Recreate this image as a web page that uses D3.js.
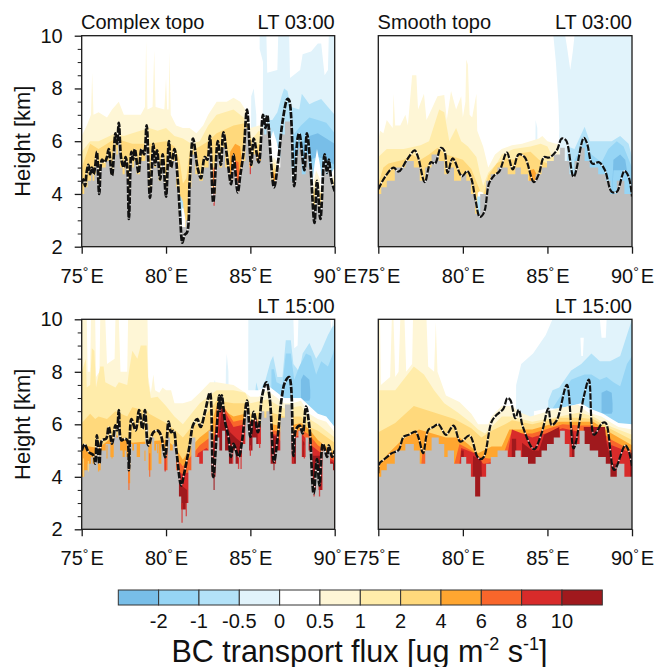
<!DOCTYPE html>
<html><head><meta charset="utf-8">
<script src="https://cdn.jsdelivr.net/npm/d3@7"></script>
<style>html,body{margin:0;padding:0;background:#fff}svg{display:block}text{font-family:"Liberation Sans",Arial,sans-serif;fill:#111}</style>
</head><body><svg id="c" width="659" height="667"></svg>
<script>
const levelLabels=["-2","-1","-0.5","0","0.5","1","2","4","6","8","10"];
const levelColors=["#78bee8","#96d5f5","#b3e2f8","#e1f3fb","#ffffff","#fef6d6","#ffecaa","#ffd97c","#ffa630","#f9662b","#d82b2a","#a0191d"];
const lonTicks=[75,80,85,90], heightTicks=[2,4,6,8,10], heightMinor=[2.5,3,3.5,4.5,5,5.5,6.5,7,7.5,8.5,9,9.5];

/* black lines [lon,height] */
const lineTL=[[75,4.4],[75.1,4.55],[75.2,4.3],[75.3,4.85],[75.4,5.1],[75.5,4.75],[75.6,5],[75.7,4.75],[75.8,5.05],[75.9,5.6],[76.04,4],[76.2,5.3],[76.35,5.2],[76.5,5.4],[76.6,5.7],[76.8,4.7],[77,6.3],[77.1,5.9],[77.2,6.7],[77.35,5.3],[77.5,5],[77.6,5.4],[77.7,5.05],[77.8,3.05],[77.95,5.6],[78.05,5.3],[78.15,5.7],[78.37,4.8],[78.55,5.7],[78.7,5.5],[78.85,6.6],[79.05,3.85],[79.25,5.9],[79.35,5.1],[79.47,5.65],[79.65,4.55],[79.8,5.5],[80,3.9],[80.17,6],[80.3,5],[80.5,5.7],[80.7,4.5],[80.83,3.2],[80.97,2.15],[81.1,2.45],[81.25,2.55],[81.4,4.5],[81.6,6.1],[81.87,5],[82.07,4.6],[82.3,5.4],[82.45,5.3],[82.6,6.2],[82.8,3.68],[83.07,6],[83.25,5.1],[83.4,6.34],[83.6,5.5],[83.86,4.37],[84,5.5],[84.25,4.06],[84.4,4.7],[84.6,5.6],[84.8,7.2],[85.05,5.1],[85.2,6.1],[85.5,5.2],[85.75,7],[85.9,6.5],[86,7],[86.4,4.25],[86.65,5.25],[86.9,6.7],[87.2,7.6],[87.3,7.55],[87.6,4.3],[87.8,6.1],[87.9,6.3],[88.2,4.9],[88.35,6.3],[88.55,5.2],[88.8,2.9],[88.95,4.5],[89.15,3.05],[89.4,5.5],[89.55,4.8],[89.65,5.3],[89.8,4.55],[90,4.1]];
const lineTR=[[75,4.18],[75.4,4.65],[75.9,5],[76.2,4.85],[76.7,5.3],[77.15,5.65],[77.35,5.4],[77.75,4.45],[78.1,5.2],[78.35,5.15],[78.7,5.75],[78.9,5.65],[79.1,4.8],[79.4,5.35],[79.95,4.67],[80.25,4.87],[80.5,4.58],[80.75,3.76],[81,3.13],[81.25,3.3],[81.55,4.4],[81.85,4.7],[82.15,4.85],[82.6,5.57],[82.95,4.93],[83.3,5.5],[83.65,5.4],[84.2,4.45],[84.5,4.77],[84.8,5.4],[85.1,5.38],[85.55,5.65],[85.85,6.1],[86.1,6.03],[86.55,4.65],[87.15,6.13],[87.35,5.9],[87.65,5.15],[88.05,5.2],[88.4,4.9],[88.8,4.08],[89.1,4.08],[89.55,4.87],[89.8,4.65],[90,3.9]];
const lineBL=[[75,5],[75.17,5.24],[75.4,4.95],[75.7,4.82],[75.8,4.5],[75.9,5.58],[76.05,4.5],[76.2,5.39],[76.45,5.45],[76.6,5.9],[76.8,5.26],[77,5.96],[77.1,5.77],[77.2,6.54],[77.35,5.39],[77.55,5.45],[77.7,5.39],[77.8,4.25],[77.95,6.2],[78.2,5.77],[78.4,6.54],[78.6,5.83],[78.75,6.54],[78.95,5.2],[79.25,5.7],[79.5,5.76],[79.7,5.58],[79.95,4.75],[80.15,6.1],[80.3,5.7],[80.45,5.75],[80.6,5.08],[80.9,3.67],[81.05,4.05],[81.4,5.2],[81.6,5.96],[81.85,6.2],[82.05,5.9],[82.32,6.5],[82.6,7.2],[82.8,3.99],[83.15,7.1],[83.2,6.5],[83.3,7.1],[83.5,6.09],[83.7,5.52],[83.85,4.76],[84,5.26],[84.3,4.76],[84.5,5.33],[84.8,6.9],[85,5.52],[85.2,6.47],[85.45,5.7],[85.7,7.1],[85.95,7.6],[86.15,6.97],[86.4,4.57],[86.6,5.4],[86.85,6.97],[87.05,7.6],[87.3,7.8],[87.55,4.8],[87.7,5.8],[87.93,5.95],[88.1,5.65],[88.3,6.67],[88.5,5.9],[88.75,3.36],[88.95,4.67],[89.1,3.67],[89.3,5.26],[89.55,4.76],[89.65,5.2],[89.85,4.76],[90,5]];
const lineBR=[[75,4.13],[75.06,4.5],[75.3,4.64],[75.8,4.9],[76.2,5.02],[76.5,5.53],[76.8,5.6],[77.2,5.72],[77.4,5.45],[77.65,4.9],[77.95,5.78],[78.25,5.9],[78.55,6],[79,5.6],[79.45,5.95],[79.85,5.34],[80.4,5.57],[80.85,4.77],[81.05,4.67],[81.25,4.77],[81.7,6.1],[82,6.36],[82.4,6.6],[82.63,7],[82.8,6.93],[83.1,6.23],[83.3,6.55],[83.55,5.9],[84.2,5.05],[84.65,5.65],[85.05,6.6],[85.25,5.97],[85.55,6.15],[86.15,7.5],[86.55,5.08],[87.15,7.05],[87.45,7.7],[87.75,5.6],[88.25,6.05],[88.45,6.05],[88.95,4.26],[89.6,5.2],[89.8,5],[90,4.4]];

/* terrain [lon,height] */
const terrainComplex=[[75,4],[75.1,4],[75.2,4.25],[75.3,4.25],[75.4,4.5],[75.5,4.5],[75.6,4.75],[75.7,4.5],[75.8,4.75],[75.9,5.25],[76.04,4.25],[76.2,5],[76.35,5],[76.5,5.25],[76.6,5.25],[76.8,4.75],[77,5.75],[77.1,5.5],[77.2,6],[77.35,5],[77.5,4.75],[77.6,5],[77.7,4.75],[77.8,3.75],[77.95,5.25],[78.05,5],[78.15,5.25],[78.37,4.75],[78.55,5.25],[78.7,5.25],[78.85,6],[79.05,4.25],[79.25,5.5],[79.35,5],[79.47,5.25],[79.65,4.5],[79.8,5.25],[80,4.25],[80.17,5.5],[80.3,5],[80.5,5.25],[80.7,4.25],[80.83,3.25],[80.97,2.75],[81.1,2.75],[81.25,3],[81.4,4.25],[81.6,5.5],[81.87,4.75],[82.07,4.5],[82.3,5],[82.45,5],[82.6,5.75],[82.8,4],[83.07,5.5],[83.25,5],[83.4,5.75],[83.6,5],[83.86,4.5],[84,5],[84.25,4.5],[84.4,4.75],[84.6,5.25],[84.8,6.5],[85.05,5],[85.2,5.5],[85.5,5.25],[85.75,6.5],[85.9,6.25],[86,6.5],[86.4,4.5],[86.65,5],[86.9,6.25],[87.2,6.75],[87.3,6.75],[87.6,4.5],[87.8,5.5],[87.9,5.75],[88.2,4.75],[88.35,5.5],[88.55,5],[88.8,3.5],[88.95,4.25],[89.15,3.5],[89.4,5],[89.55,4.75],[89.65,5],[89.8,4.5],[90,4.25]];
const terrainSmooth=[[75,4],[75.35,4.25],[75.65,4.5],[76.3,5],[76.9,5.25],[77.3,5],[77.6,4.5],[77.95,5],[78.35,5.5],[78.8,5.25],[79,4.75],[79.2,5],[79.75,4.5],[80.05,4.75],[80.35,4.5],[80.6,4],[80.85,3.25],[81.2,4],[81.55,4.5],[81.75,4.75],[82.35,5],[82.95,4.75],[83.25,5],[83.6,4.75],[84.1,4.5],[84.5,4.75],[84.8,5],[85.15,5.25],[85.6,5.5],[85.9,5.75],[86.15,5.25],[86.45,4.75],[86.75,5.25],[87.05,5.75],[87.35,5.25],[87.65,5],[88.35,4.75],[88.55,4.5],[88.9,4],[89.3,4.5],[89.8,4],[90,4]];

/* filled contours [lon, upper, lower(optional, default bottom)] */
const tlBlue3=[[85,2],[85.05,7.7],[85.2,8],[85.35,7],[85.4,2],[85.7,2],[85.75,9],[85.55,9.5],[85.55,10],[90,10]];
const tlHoles=[[85.95,10,10],[86,10,8.6],[86.6,10,8.7],[86.65,10,10],[87.3,10,10],[87.35,10,8.4],[87.95,10,8.7],[88.1,10,9.3],[88.6,10,9.4],[89,10,9.7],[89.2,10,9.7],[89.4,10,8.5],[89.6,10,8.7],[89.65,10,10]];
const tlBlue2=[[85.75,2],[85.8,6.8],[86.3,6.8],[86.6,7.1],[86.85,7.7],[87,8],[87.2,7.9],[87.4,7.3],[87.9,7.2],[88.05,7.8],[88.5,7.4],[88.8,7.5],[89.2,7.6],[89.6,7.3],[90,7]];
const tlBlue1=[[85.85,2],[85.95,6.4],[86.1,6.3],[86.3,5.8],[86.8,5.9],[87.5,6.2],[88,6.6],[88.5,6.9],[89,6.8],[89.5,6.7],[90,6.3]];
const tlBlue0=[[87.4,5.7,5.2],[87.5,5.7,5.2],[88,5.9,5.2],[88.5,6.2,5.3],[89,6.3,5.4],[89.5,6.1,5.3],[90,5.9,5.1]];
const tlWhite=[[85.95,5.2,5],[86.15,6,4.9],[86.35,6.4,4.8],[86.55,6,4.9],[86.75,5.4,4.9],[88.65,4.3,4],[88.8,5.1,4],[88.95,5.7,4],[89.1,5.2,4],[89.25,4.6,4],[89.7,4.7,4],[90,5,4]];
const tlPos05=[[75,6.2],[75.3,6.6],[75.55,7],[75.62,8.6],[75.7,7],[76,7.1],[76.5,6.9],[76.8,7.2],[77.2,7.5],[77.5,7],[78,7],[78.5,7],[78.75,7.3],[78.82,9.8],[78.9,7.2],[79.2,7.3],[79.3,9.45],[79.38,7.3],[79.9,7.2],[80,8.4],[80.07,7.2],[80.15,7.2],[80.2,9.4],[80.28,7],[80.6,6.6],[81,6.5],[81.4,6.5],[81.8,6.3],[82.2,6.6],[82.5,7],[83,7.5],[83.6,7.5],[84,7.65],[84.4,7.5],[84.8,7.1],[85,6.5],[85.5,6.6],[85.75,6.6],[85.8,4],[86.1,4],[86.2,5],[86.35,5.4],[86.5,5.3],[86.7,5],[86.8,4],[88.6,4],[88.7,4.3],[88.9,4.9],[89.1,4.6],[89.2,4],[89.8,4.5],[90,4.8]];
const tlPos1=[[75,5.6],[75.5,6],[76,6],[77,6.3],[77.5,6.2],[78,6.3],[79,6.5],[79.5,6.4],[80,6.5],[80.5,6.2],[81,6.1],[81.5,5.9],[82,6],[82.5,6.6],[83,7],[84,7.2],[84.6,6.9],[85,6],[85.5,6.4],[85.7,6.3],[85.75,4],[86.15,4],[86.25,5],[86.4,5.2],[86.6,5],[86.7,4],[88.7,4],[88.9,4.6],[89.1,4],[90,4.6]];
const tlPos2=[[75,5],[75.5,5.9],[76,5.7],[77,6.1],[78,5.9],[79,5.9],[80,6],[80.5,5.8],[80.8,5.3],[81,4.4],[81.2,4.6],[81.4,5.6],[82,5.8],[82.5,6],[83,6.3],[84,6.6],[84.8,6.7],[85.2,5.7],[85.5,5.9],[85.7,5.8],[85.75,4],[86.2,4],[86.3,4.9],[86.45,5],[86.6,4.5],[88.7,4],[88.9,4.3],[89.1,4],[90,4.4]];
const tlPos4=[[82.7,4],[82.8,4.8],[82.95,5],[83.05,4],[83.7,4],[83.8,5.6],[84.1,5.9],[84.4,5.8],[84.6,4.5],[85.2,4.5],[85.4,5.5],[85.6,5.6],[85.65,4],[86.25,4],[86.35,4.85],[86.5,4.7],[86.55,4]];
const tlPos6=[[83.95,4],[84,5.3],[84.3,5.2],[84.4,4],[85.45,4],[85.5,5.4],[85.58,5.2],[85.6,4]];
const tlValley=[[80.8,3.9,3],[80.88,3.9,2.9],[81,3.7,2.6],[81.05,3.4,2.6],[81.1,3.2,2.6]];
const tlValleyWhite=[[80.93,3.4,2.7],[81,3.5,2.6],[81.05,3.4,2.6],[81.15,3,2.6]];
const tlStems=[[82.85,3.55,5,10],[85,4.75,5.4,10],[84.3,4.1,4.6,9]];

const trBlue3=[[84.25,2],[84.3,6.8],[84.4,6.5],[84.45,2],[85.5,2],[85.7,6.5],[85.65,7.5],[85.5,9],[85.35,10],[90,10]];
const trHoles=[[86.05,10,10],[86.15,10,9.6],[86.35,10,8.7],[86.5,10,9.4],[86.6,10,10]];
const trBlue2=[[85.9,2],[86.2,5.8],[86.6,5.7],[87.2,6.55],[87.5,6],[88.2,6],[88.8,6],[89.3,6.2],[89.8,5.9],[90,5.4]];
const trBlue1=[[86.4,2],[86.6,5.3],[87.2,6],[87.6,5.5],[88.2,5.2],[88.6,5.7],[89.1,6],[89.5,5.8],[90,5]];
const trBlue0=[[88.7,2],[88.9,5.3,4.9],[89.3,5.5,4.9],[89.6,5.3,4.9],[89.7,4.9,4.7]];
const trPos05=[[75,6],[75.1,6.4],[75.3,6.3],[75.5,6.8],[75.85,6.5],[75.9,7.8],[76,6.6],[76.3,6.6],[76.6,7],[76.75,6.6],[77,8.5],[77.25,8.5],[77.35,7.2],[77.7,7.8],[77.85,6.8],[78,7],[78.5,7.7],[78.9,7.75],[79.05,6.8],[79.3,7.9],[79.6,7.2],[79.9,7.7],[80,6.9],[80.15,7.5],[80.2,9.1],[80.3,8.9],[80.4,7],[80.55,6.9],[80.8,7.8],[80.85,6.4],[81.2,5.8],[81.5,5],[81.9,5.5],[82.3,5.7],[82.9,5.85],[83.5,5.9],[84.5,6.1],[84.7,6.2],[85,6],[85.5,5.9],[85.7,5.9],[85.8,4],[90,4]];
const trPos1=[[75,5.4],[75.5,5.7],[76.5,5.7],[77.5,5.85],[78,6],[78.6,7.2],[78.9,7.1],[79.2,6],[79.6,6.5],[79.9,6],[80.3,5.8],[80.8,5.4],[81,4.8],[81.2,4.3],[81.5,4.8],[82,5.15],[82.3,5.5],[83,5.7],[84,5.8],[84.6,5.9],[85,5.8],[85.3,5.4],[85.5,5.4],[85.55,4],[90,4]];
const trPos2=[[75,4.4],[75.3,5],[75.6,5.15],[76.5,5.3],[77,5.5],[77.5,5.3],[78,5.5],[78.5,5.75],[79,5.5],[79.5,5.4],[80,5.3],[80.5,4.95],[81,4.15],[81.2,3.9],[81.5,4.7],[82,5.15],[82.5,5.35],[83,5.3],[83.5,5.55],[84,5.6],[84.5,5.3],[85,5.15],[85.05,4],[90,4]];
const trPos4=[[83.9,4],[83.95,4.9],[84.2,4.95],[84.4,4.7],[84.45,4]];
const trValley=[[80.85,3.9,3],[81,3.9,3.2],[81.2,3.7,3.1]];
const trValleyWhite=[[80.88,4.05,3.8],[81,4.1,3.75],[81.2,4.05,3.7]];

const blBlue3=[[82.7,2],[82.7,7.3],[82.9,7.7],[83,7.3],[83.05,2],[83.45,2],[83.55,8.1],[83.6,8.7],[83.7,8],[83.75,2],[84.85,2],[84.88,10],[90,10]];
const blHoles=[[87.55,10,10],[87.6,10,8.9],[87.8,10,9],[87.85,10,10],[89.75,10,10],[89.8,10,9.6],[89.9,10,10]];
const blBlue2=[[85.2,2],[85.25,7],[85.35,7.6],[85.5,7.2],[85.9,7.7],[86.2,8.4],[86.35,8.6],[86.6,7.8],[86.9,7.8],[87.1,9.2],[87.4,9.2],[87.55,8.3],[87.9,8],[88.1,8.7],[88.5,9.1],[88.9,8.5],[89.2,8.8],[89.6,9.4],[89.85,9.7],[90,9.8]];
const blBlue1=[[86.2,2],[86.25,8.1],[86.4,8.1],[86.55,7.6],[86.9,7.5],[87.1,8.7],[87.4,8.7],[87.6,7.7],[87.9,8.2],[88.3,8.7],[88.6,8.6],[88.9,7.9],[89.2,8.4],[89.6,8.2],[89.9,8.7],[90,9]];
const blBlue0=[[88,7.7,7],[88.15,7.9,6.9],[88.5,7.7,6.9],[88.55,7.3,7]];
const blWhite=[[79.5,7.2],[80,7.4],[80.5,7],[81,7],[81.5,7.1],[82,7.4],[82.5,7.8],[83,7.5],[84,7.5],[84.7,7.3],[85,7.3],[85.5,7.3],[86,7.5],[87,7],[87.5,7],[88,7],[88.5,6.7],[89,6.4],[89.5,6.3],[90,5.9]];
const blPos05=[[75,10],[75.3,10],[75.35,8],[75.5,8],[75.55,10],[75.8,10],[75.85,7.8],[76.05,8],[76.1,10],[76.4,10],[76.5,8.3],[76.95,8.5],[77,10],[77.2,10],[77.3,8],[77.7,8],[77.75,10],[78.9,10],[78.95,7.8],[79.1,7.2],[79.25,7.9],[79.35,7.3],[79.6,7.2],[79.8,7.4],[80,7.3],[80.3,7.3],[80.5,6.8],[81,6.8],[81.5,6.9],[82,7.2],[82.6,7.6],[83,7.6],[84,7.5],[84.7,7.2],[85,7.05],[85.5,7.05],[86,7.3],[87,6.8],[87.5,6.8],[88,6.9],[88.5,6.4],[89,6.2],[89.5,6.1],[90,5.7]];
const blPos1=[[75,8],[75.25,8.5],[75.3,7.4],[75.5,7.5],[75.6,8.9],[75.75,8.8],[75.85,7.4],[76.1,8.2],[76.3,8.2],[76.4,7.6],[77,7.4],[77.2,7.6],[77.7,7.5],[77.8,8],[78,8.8],[78.3,8.5],[78.5,9],[78.85,9],[78.95,7.6],[79.1,7],[79.5,7.05],[80,6.7],[80.5,6.3],[81,6],[81.5,6.4],[82,6.8],[82.5,7.05],[83,7.3],[84,7.3],[84.7,7.2],[85,6.8],[86,6.95],[87,6.6],[88,6.7],[88.5,6.2],[89,6],[90,5.5]];
const blPos2=[[75,6.05],[75.5,6.4],[75.8,6.2],[76,6.3],[76.5,6.2],[77,6.5],[77.7,6.3],[78,6.65],[78.9,6.5],[79,6.4],[80,6.05],[80.5,5.8],[81,5.5],[81.5,5.9],[82,6.05],[83,6.9],[84,6.8],[84.7,6.8],[85,6.4],[86,6.5],[87,6.3],[88,6.3],[88.5,5.9],[89,5.75],[90,5.3]];
const blPos4=[[75,5.2],[76,5.1],[77,5.6],[78,5.3],[79,5.35],[80,5.4],[80.5,5.15],[81,4.65],[81.5,5.15],[82,5.5],[82.6,5.8],[83,6.7],[84,6.3],[84.7,6.4],[85,6.05],[86,6.05],[87,5.9],[88,6.05],[88.5,5.8],[89,5.4],[90,4.9]];
const blPos6=[[79.8,4.5],[80,5.1],[80.5,4.8],[81,4.4],[81.5,4.8],[82,5.2],[82.6,5.5],[82.9,5.2],[83,6.6],[83.4,6.7],[84,6.1],[84.7,6.2],[85,5.8],[86,5.8],[87,5.7],[87.5,5.7],[88,5.8],[88.5,5.6],[89,5.2],[90,4.75]];
const blPos8=[[80.5,4],[80.7,4.2],[81,4.1],[81.5,4.2],[81.9,4.9],[82.4,5.1],[82.7,4.9],[83,6.2],[83.3,6.7],[84,5.9],[84.7,6],[85,5.6],[85.4,6.1],[86,5.7],[86.5,5.6],[87,5.2],[87.5,5.5],[88.1,5.6],[88.6,5.2],[89.2,4.9],[90,4.6]];
const blPos10=[[80.55,2],[80.6,3.6],[80.85,3.7],[81.05,3.6],[81.25,3.5],[81.3,2],[82.85,2],[82.9,4.5],[83.2,6],[83.3,6.6],[83.6,6],[83.8,5.7],[84.2,5.45],[84.5,5.3],[84.6,2],[84.9,2],[84.9,6.1],[85.4,6.2],[85.6,2],[86.2,2],[86.2,5.6],[86.7,5.5],[86.8,2],[87.5,2],[87.5,5.3],[87.7,5.3],[87.75,2],[88.05,2],[88.1,5.4],[88.2,5.3],[88.25,2],[88.65,2],[88.7,4.8],[89.2,4.8],[89.25,2],[89.7,2],[89.75,4.6],[90,4.5]];
const blStems=[[77.8,3.5,4.5,9],[79.03,4,4.9,9],[79.95,4.2,4.8,10],[80.95,2.25,3,10],[81.2,2.5,3,10],[82.85,3.5,4.5,11],[83.95,4.5,5,10],[84.3,4.3,4.9,10],[84.45,4.3,4.9,10],[85,4.8,5.2,10],[85.55,5.1,5.5,10],[86.4,4.25,4.8,11],[87.55,4.5,5,10],[88.2,4.7,5.2,10],[88.78,3.25,3.7,10],[89.1,3.25,3.7,10],[90,3.9,4.6,10],[76,4.2,4.9,8],[75.1,4,4.7,7],[75.4,4.2,4.6,7],[76.5,4.7,5.2,8],[76.8,4.7,5,8],[78.75,4.6,5,8],[79.5,4.9,5.3,8]];

const brBlue3=[[83.1,2],[83.15,7.5],[83.45,8.3],[84.15,8.7],[84.9,9.4],[85.3,10],[90,10]];
const brHoles=[[86.95,9.3,9.3],[87,9.3,8.6],[87.1,9.3,8.6],[87.15,9.3,9.3],[88.1,10,10],[88.2,10,9.3],[88.45,10,9.3],[88.5,10,10]];
const brBlue2=[[85,2],[85.05,6.9],[85.3,7.3],[85.7,7.4],[86.4,8.05],[87,8.3],[87.6,8.7],[88.1,8.4],[88.7,8.4],[89.3,8.6],[89.5,9],[90,10]];
const brBlue1=[[85.1,2],[85.3,6.6],[85.7,7],[86.4,7.7],[86.8,7.8],[87.2,7.9],[87.6,7.9],[88.1,7.7],[88.5,7.8],[88.9,7.6],[89.3,7.45],[89.7,8.3],[90,8.6]];
const brBlue0=[[88.2,7.2,6.4],[88.5,7.3,6.4],[88.8,7.2,6.4],[88.85,6.8,6.5]];
const brWhite=[[84.2,6.5],[85,6.6],[85.5,6.6],[86,6.65],[87,6.8],[87.5,6.6],[88.3,6.4],[88.8,6.2],[89.2,6.05],[90,6]];
const brPos05=[[75,10],[75.1,10],[75.15,7.5],[75.7,7.8],[75.8,10],[75.9,10],[76,7.8],[76.2,8],[76.3,10],[76.55,10],[76.65,8],[77,8.3],[77.05,10],[77.85,10],[77.95,8.2],[78.3,8],[78.4,9.9],[78.5,8],[79,7.1],[79.8,6.85],[80.5,6.4],[80.9,6],[81.5,6],[81.7,6.3],[82.3,6.7],[82.9,6.7],[83.4,6.45],[84,6.3],[84.8,6.45],[85.6,6.6],[86.8,6.75],[87.4,6.45],[88.2,6.3],[88.8,6.05],[89.2,5.9],[90,5.8]];
const brPos1=[[75,7.3],[76,7.3],[77.1,8.2],[77.7,7.9],[78.3,7.3],[78.9,6.8],[79.7,6.45],[80.5,6.05],[80.9,5.8],[81.3,5.65],[81.7,5.9],[82.3,6.3],[82.9,6.3],[84.1,6.1],[85.7,6.3],[86.9,6.45],[87.7,6.3],[88.8,5.9],[90,5.6]];
const brPos2=[[75,5.7],[76,6.05],[77.1,6.7],[78.3,6.45],[79.5,6.2],[80.5,5.85],[81.1,5.5],[81.7,5.75],[82.5,6],[82.9,6.15],[84.1,6],[85.7,6.25],[86.9,6.25],[87.7,6.2],[88.8,5.8],[90,5.4]];
const brPos4=[[75,4.4],[75.6,4.9],[76.4,5.4],[77.4,5.8],[78.2,5.65],[79,5.5],[79.8,5.5],[80.3,5.25],[80.9,4.9],[81.7,5.15],[82.3,5.15],[82.75,5.8],[84.1,5.8],[85.7,6.1],[86.9,6.1],[87.7,6.1],[88.8,5.65],[90,5.2]];
const brPos6=[[77.55,4.5],[77.6,4.9],[77.95,4.9],[78,4.5],[79.5,4.5],[79.8,5.25],[80.5,5],[81,4.75],[81.5,4.7],[82.3,4.7],[82.85,5.65],[84.1,5.65],[85.9,6],[86.9,5.95],[87.7,5.95],[88.8,5.4],[90,5]];
const brPos8=[[79.8,4.5],[79.9,5.1],[80.7,4.9],[81.2,4.5],[81.3,4.5],[82.6,4.7],[82.9,5.8],[84.1,5.5],[85.9,5.85],[87,5.7],[87.7,5.85],[88.8,5.2],[90,4.9]];
const brPos10=[[79.85,2],[79.9,5],[80.05,5],[80.1,2],[80.55,2],[80.6,4.8],[81.1,4.6],[81.2,2],[82.85,2],[82.9,5.45],[83.15,5.45],[83.2,2],[83.5,2],[83.5,5.3],[84.1,5],[84.5,5],[84.8,5.6],[85.7,5.9],[85.8,2],[86.45,2],[86.45,5.9],[86.7,5.2],[86.75,2],[87.1,2],[87.15,5.9],[88.4,5.9],[88.5,5.3],[88.8,4.5],[89.2,4.5],[89.3,2],[89.9,2],[89.9,4.9],[90,4.9]];

const panels=[
 {x0:81.7,x1:334.7,y0:35.7,y1:246.7,left:true,title:"Complex topo",time:"LT 03:00",line:lineTL,ter:terrainComplex,stems:tlStems,lw:2.7,
  bands:[[3,tlBlue3],[4,tlHoles],[2,tlBlue2],[1,tlBlue1],[0,tlBlue0],[4,tlWhite],[5,tlPos05],[6,tlPos1],[7,tlPos2],[8,tlPos4],[9,tlPos6],[2,tlValley],[4,tlValleyWhite]]},
 {x0:378.3,x1:632,y0:35.7,y1:246.7,left:false,title:"Smooth topo",time:"LT 03:00",line:lineTR,ter:terrainSmooth,stems:[],lw:2.2,
  bands:[[3,trBlue3],[4,trHoles],[2,trBlue2],[1,trBlue1],[0,trBlue0],[5,trPos05],[6,trPos1],[7,trPos2],[8,trPos4],[4,trValleyWhite],[2,trValley]]},
 {x0:81.7,x1:334.7,y0:319.3,y1:529.3,left:true,title:"",time:"LT 15:00",line:lineBL,ter:terrainComplex,stems:blStems,lw:2.7,
  bands:[[3,blBlue3],[4,blHoles],[2,blBlue2],[1,blBlue1],[0,blBlue0],[4,blWhite],[5,blPos05],[6,blPos1],[7,blPos2],[8,blPos4],[9,blPos6],[10,blPos8],[11,blPos10]]},
 {x0:378.3,x1:632,y0:319.3,y1:529.3,left:false,title:"",time:"LT 15:00",line:lineBR,ter:terrainSmooth,stems:[],lw:2.2,
  bands:[[3,brBlue3],[4,brHoles],[2,brBlue2],[1,brBlue1],[0,brBlue0],[4,brWhite],[5,brPos05],[6,brPos1],[7,brPos2],[8,brPos4],[9,brPos6],[10,brPos8],[11,brPos10]]}
];

const svg=d3.select("#c");
const ink="#1a1a1a";
panels.forEach((p,i)=>{
  const x=d3.scaleLinear().domain([75,90]).range([p.x0,p.x1]);
  const y=d3.scaleLinear().domain([2,10]).range([p.y1,p.y0]);
  svg.append("clipPath").attr("id","clip"+i).append("rect").attr("x",p.x0).attr("y",p.y0).attr("width",p.x1-p.x0).attr("height",p.y1-p.y0);
  const g=svg.append("g").attr("clip-path",`url(#clip${i})`);
  const area=d3.area().x(d=>x(d[0])).y0(d=>y(d.length>2?d[2]:2)).y1(d=>y(d[1])).curve(d3.curveLinear);
  p.bands.forEach(([k,d])=>g.append("path").datum(d).attr("d",area).attr("fill",levelColors[k]));
  const ta=d3.area().x(d=>x(d[0])).y0(y(2)).y1(d=>y(d[1])).curve(d3.curveStep);
  g.append("path").datum(p.ter).attr("d",ta).attr("fill","#bebebe");
  g.selectAll(".stem").data(p.stems).join("line").attr("x1",d=>x(d[0])).attr("x2",d=>x(d[0])).attr("y1",d=>y(d[1])).attr("y2",d=>y(d[2])).attr("stroke",d=>levelColors[d[3]]).attr("stroke-width",1.3).attr("opacity",.8);
  const ln=d3.line().x(d=>x(d[0])).y(d=>y(d[1])).curve(d3.curveCatmullRom.alpha(.5));
  g.append("path").datum(p.line).attr("d",ln).attr("fill","none").attr("stroke","#fff").attr("stroke-width",1.3).attr("stroke-opacity",.85);
  g.append("path").datum(p.line).attr("d",ln).attr("fill","none").attr("stroke","#111").attr("stroke-width",p.lw).attr("stroke-dasharray","6.5 1.5");

  svg.append("rect").attr("x",p.x0).attr("y",p.y0).attr("width",p.x1-p.x0).attr("height",p.y1-p.y0).attr("fill","none").attr("stroke",ink).attr("stroke-width",1.3);

  const ax=d3.axisBottom(x).tickValues(lonTicks).tickSize(7).tickPadding(11).tickFormat("");
  const gx=svg.append("g").attr("transform",`translate(0,${p.y1})`).call(ax);
  gx.select(".domain").remove();
  gx.selectAll("line").attr("stroke",ink).attr("stroke-width",1.3);
  gx.selectAll(".tick").each(function(v){
    const t=d3.select(this).select("text").attr("y",null).attr("dy",null).attr("text-anchor","middle").attr("y",36).style("font-size","20px");
    t.append("tspan").text(v);
    t.append("tspan").text("°").attr("dy",-6).style("font-size","14px");
    t.append("tspan").text("E").attr("dy",6).attr("dx",2);
  });
  if(p.left){
    const ay=d3.axisLeft(y).tickValues(heightTicks).tickSize(7).tickPadding(12);
    const gy=svg.append("g").attr("transform",`translate(${p.x0},0)`).call(ay);
    gy.select(".domain").remove();
    gy.selectAll("line").attr("stroke",ink).attr("stroke-width",1.3);
    gy.selectAll("text").style("font-size","20px").attr("fill","#111");
    const am=d3.axisLeft(y).tickValues(heightMinor).tickSize(4).tickFormat("");
    const gm=svg.append("g").attr("transform",`translate(${p.x0},0)`).call(am);
    gm.select(".domain").remove();
    gm.selectAll("line").attr("stroke",ink).attr("stroke-width",1);
    svg.append("text").attr("transform",`translate(30,${(p.y0+p.y1)/2}) rotate(-90)`).attr("text-anchor","middle").style("font-size","22px").text("Height [km]");
  }
  if(p.title) svg.append("text").attr("x",p.x0-.7).attr("y",p.y0-6.8).style("font-size","20px").text(p.title);
  svg.append("text").attr("x",p.x1).attr("y",p.y0-6.8).attr("text-anchor","end").style("font-size","20px").text(p.time);
});

/* colour bar */
const cb=d3.scaleLinear().domain([0,12]).range([118.3,602.3]);
const cg=svg.append("g");
cg.selectAll("rect").data(levelColors).join("rect").attr("x",(d,i)=>cb(i)).attr("y",590).attr("width",cb(1)-cb(0)).attr("height",15).attr("fill",d=>d).attr("stroke","#333").attr("stroke-width",1);
cg.selectAll("text").data(levelLabels).join("text").attr("x",(d,i)=>cb(i+1)).attr("y",628).attr("text-anchor","middle").style("font-size","20px").text(d=>d);
const ttl=svg.append("text").attr("x",359.5).attr("y",662).attr("text-anchor","middle").style("font-size","30.5px");
ttl.append("tspan").text("BC transport flux [ug m");
ttl.append("tspan").text("-2").attr("dy",-12).style("font-size","18px");
ttl.append("tspan").text(" s").attr("dy",12);
ttl.append("tspan").text("-1").attr("dy",-12).style("font-size","18px");
ttl.append("tspan").text("]").attr("dy",12);
</script></body></html>
